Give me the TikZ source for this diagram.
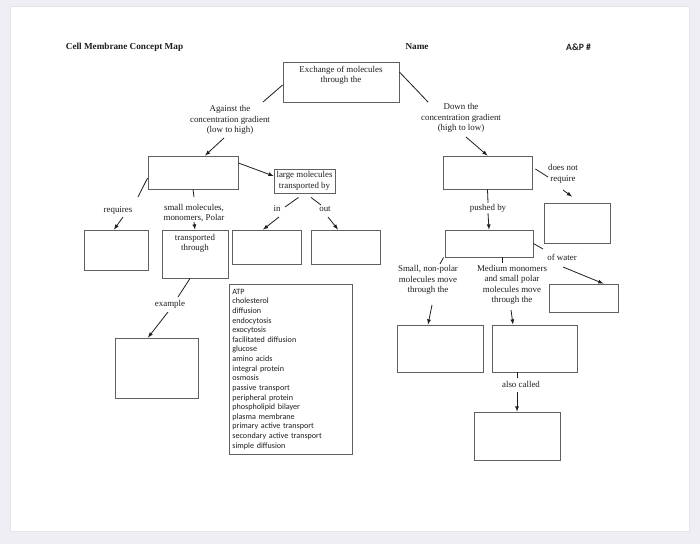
\documentclass[tikz,border=0pt]{standalone}
\usepackage{fontspec}
\setmainfont{Liberation Serif}
\newfontfamily\calibri{Carlito}
\usepackage{tikz}
\definecolor{deskgray}{HTML}{EFEEF4}
\definecolor{inkgray}{HTML}{1E1E1E}
\definecolor{boxline}{HTML}{606060}

\begin{document}
\begin{tikzpicture}[x=1pt, y=-1pt, >=latex,
		cbox/.style 2 args={draw=boxline, line width=0.85pt, minimum width=#1, minimum height=#2, inner sep=0pt},
		lbl/.style={align=center, inner sep=1pt, text=inkgray, font=\fontsize{8.9}{10.3}\selectfont},
		link/.style={draw=inkgray, line width=0.8pt}]
		% sheet of paper
		\fill[deskgray] (0,0) rectangle (700,544);
		\fill[white, draw=black!10] (10,6) rectangle (689,531);

		% heading
		\node[lbl, font=\bfseries\fontsize{9.2}{11}\selectfont] (title) at (124.5,47) {Cell Membrane Concept Map};
		\node[lbl, font=\bfseries\fontsize{9.2}{11}\selectfont] (name) at (417,47) {Name};
		\node[lbl, font=\calibri\bfseries\fontsize{9.6}{11}\selectfont] (ap) at (578.5,47) {A\&P \#};

		% boxes
		\node[cbox={116pt}{40pt}, label={[lbl, anchor=north, yshift=-3.5pt]north:{Exchange of molecules\\through the}}] (exchange) at (341,82) {};
		\node[cbox={90pt}{33pt}] (againstbox) at (193,172.5) {};
		\node[cbox={61pt}{24pt}, lbl] (large) at (304.5,181) {large molecules\\transported by};
		\node[cbox={64pt}{40pt}] (reqbox) at (116,250) {};
		\node[cbox={66pt}{48pt}, label={[lbl, anchor=north, yshift=-3.5pt]north:{transported\\through}}] (transbox) at (195,254) {};
		\node[cbox={69pt}{34pt}] (inbox) at (266.5,247) {};
		\node[cbox={69pt}{34pt}] (outbox) at (345.5,247) {};
		\node[cbox={83pt}{60pt}] (examplebox) at (156.5,368) {};
		\node[cbox={89pt}{33pt}] (downbox) at (487.5,172.5) {};
		\node[cbox={66pt}{40pt}] (noreqbox) at (577,223) {};
		\node[cbox={88pt}{27pt}] (pushedbox) at (489,243.5) {};
		\node[cbox={69pt}{28pt}] (waterbox) at (583.5,298) {};
		\node[cbox={86pt}{47pt}] (nonpolarbox) at (440,348.5) {};
		\node[cbox={85pt}{47pt}] (mediumbox) at (534.5,348.5) {};
		\node[cbox={86pt}{48pt}] (alsobox) at (517,436) {};

		% word bank
		\node[draw=boxline, line width=0.85pt, anchor=north west, align=left, text width=117pt,
			inner xsep=3pt, inner ysep=4.5pt, text=inkgray, font=\calibri\fontsize{8.1}{9.63}\selectfont] (wordlist) at (229,284)
			{ATP\\cholesterol\\diffusion\\endocytosis\\exocytosis\\facilitated diffusion\\glucose\\amino acids\\integral protein\\osmosis\\passive transport\\peripheral protein\\phospholipid bilayer\\plasma membrane\\primary active transport\\secondary active transport\\simple diffusion};

		% link words
		\node[lbl] (against) at (230,120) {Against the\\concentration gradient\\(low to high)};
		\node[lbl] (down) at (461,118) {Down the\\concentration gradient\\(high to low)};
		\node[lbl] (requires) at (118,210) {requires};
		\node[lbl] (smallmol) at (194,213) {small molecules,\\monomers, Polar};
		\node[lbl] (inlbl) at (277,209) {in};
		\node[lbl] (outlbl) at (325,209) {out};
		\node[lbl] (example) at (170,304) {example};
		\node[lbl] (doesnot) at (563,174) {does not\\require};
		\node[lbl] (pushed) at (488,208) {pushed by};
		\node[lbl] (water) at (562,257) {of water};
		\node[lbl] (nonpolar) at (428,280) {Small, non-polar\\molecules move\\through the};
		\node[lbl] (medium) at (512,285) {Medium monomers\\and small polar\\molecules move\\through the};
		\node[lbl] (also) at (521,384) {also called};

		% connectors
		\draw[link] ([yshift=-3pt]exchange.west) -- ([shift={(33pt,18pt)}]against.center);
		\draw[link, ->] ([shift={(-6pt,-18pt)}]against.center) -- ([xshift=12pt]againstbox.north);
		\draw[link] ([yshift=10pt]exchange.east) -- ([shift={(-33pt,16pt)}]down.center);
		\draw[link, ->] ([shift={(5pt,-19pt)}]down.center) -- (downbox.north);
		\draw[link, ->] ([yshift=9.5pt]againstbox.east) -- ([yshift=5pt]large.west);
		\draw[link] ([yshift=-5.5pt]againstbox.west) -- ([shift={(20pt,13pt)}]requires.center);
		\draw[link, ->] ([shift={(5pt,-7pt)}]requires.center) -- ([xshift=-2pt]reqbox.north);
		\draw[link] (againstbox.south) -- ([yshift=16pt]smallmol.center);
		\draw[link, ->] ([yshift=-9pt]smallmol.center) -- (transbox.north);
		\draw[link] ([shift={(-6pt,-4pt)}]large.south) -- ([shift={(8pt,2pt)}]inlbl.center);
		\draw[link, ->] ([shift={(2pt,-8pt)}]inlbl.center) -- ([xshift=-3.5pt]inbox.north);
		\draw[link] ([shift={(6.5pt,-4pt)}]large.south) -- ([shift={(-4pt,4pt)}]outlbl.center);
		\draw[link, ->] ([shift={(3pt,-8pt)}]outlbl.center) -- ([xshift=-7.5pt]outbox.north);
		\draw[link] ([xshift=-5pt]transbox.south) -- ([shift={(8pt,7pt)}]example.center);
		\draw[link, ->] ([shift={(-2pt,-8pt)}]example.center) -- ([xshift=-8.5pt]examplebox.north);
		\draw[link] ([shift={(3pt,3.5pt)}]downbox.east) -- ([shift={(-15pt,-3pt)}]doesnot.center);
		\draw[link, ->] ([yshift=-16pt]doesnot.center) -- ([shift={(-5pt,6pt)}]noreqbox.north);
		\draw[link] (downbox.south) -- (pushed.north);
		\draw[link, ->] (pushed.south) -- (pushedbox.north);
		\draw[link] (pushedbox.east) -- ([shift={(-19pt,8pt)}]water.center);
		\draw[link, ->] ([shift={(1pt,-10pt)}]water.center) -- ([xshift=-15pt]waterbox.north east);
		\draw[link] ([xshift=-1pt]pushedbox.south west) -- ([shift={(12pt,16pt)}]nonpolar.center);
		\draw[link, ->] ([shift={(4pt,-25pt)}]nonpolar.center) -- ([xshift=-12pt]nonpolarbox.north);
		\draw[link] ([xshift=13pt]pushedbox.south) -- ([shift={(-10pt,22pt)}]medium.center);
		\draw[link, ->] ([shift={(-1pt,-25pt)}]medium.center) -- ([xshift=-21.5pt]mediumbox.north);
		\draw[link] ([xshift=-17.5pt]mediumbox.south) -- ([shift={(-4pt,6pt)}]also.center);
		\draw[link, ->] ([shift={(-4pt,-8pt)}]also.center) -- (alsobox.north);
	\end{tikzpicture}
\end{document}
